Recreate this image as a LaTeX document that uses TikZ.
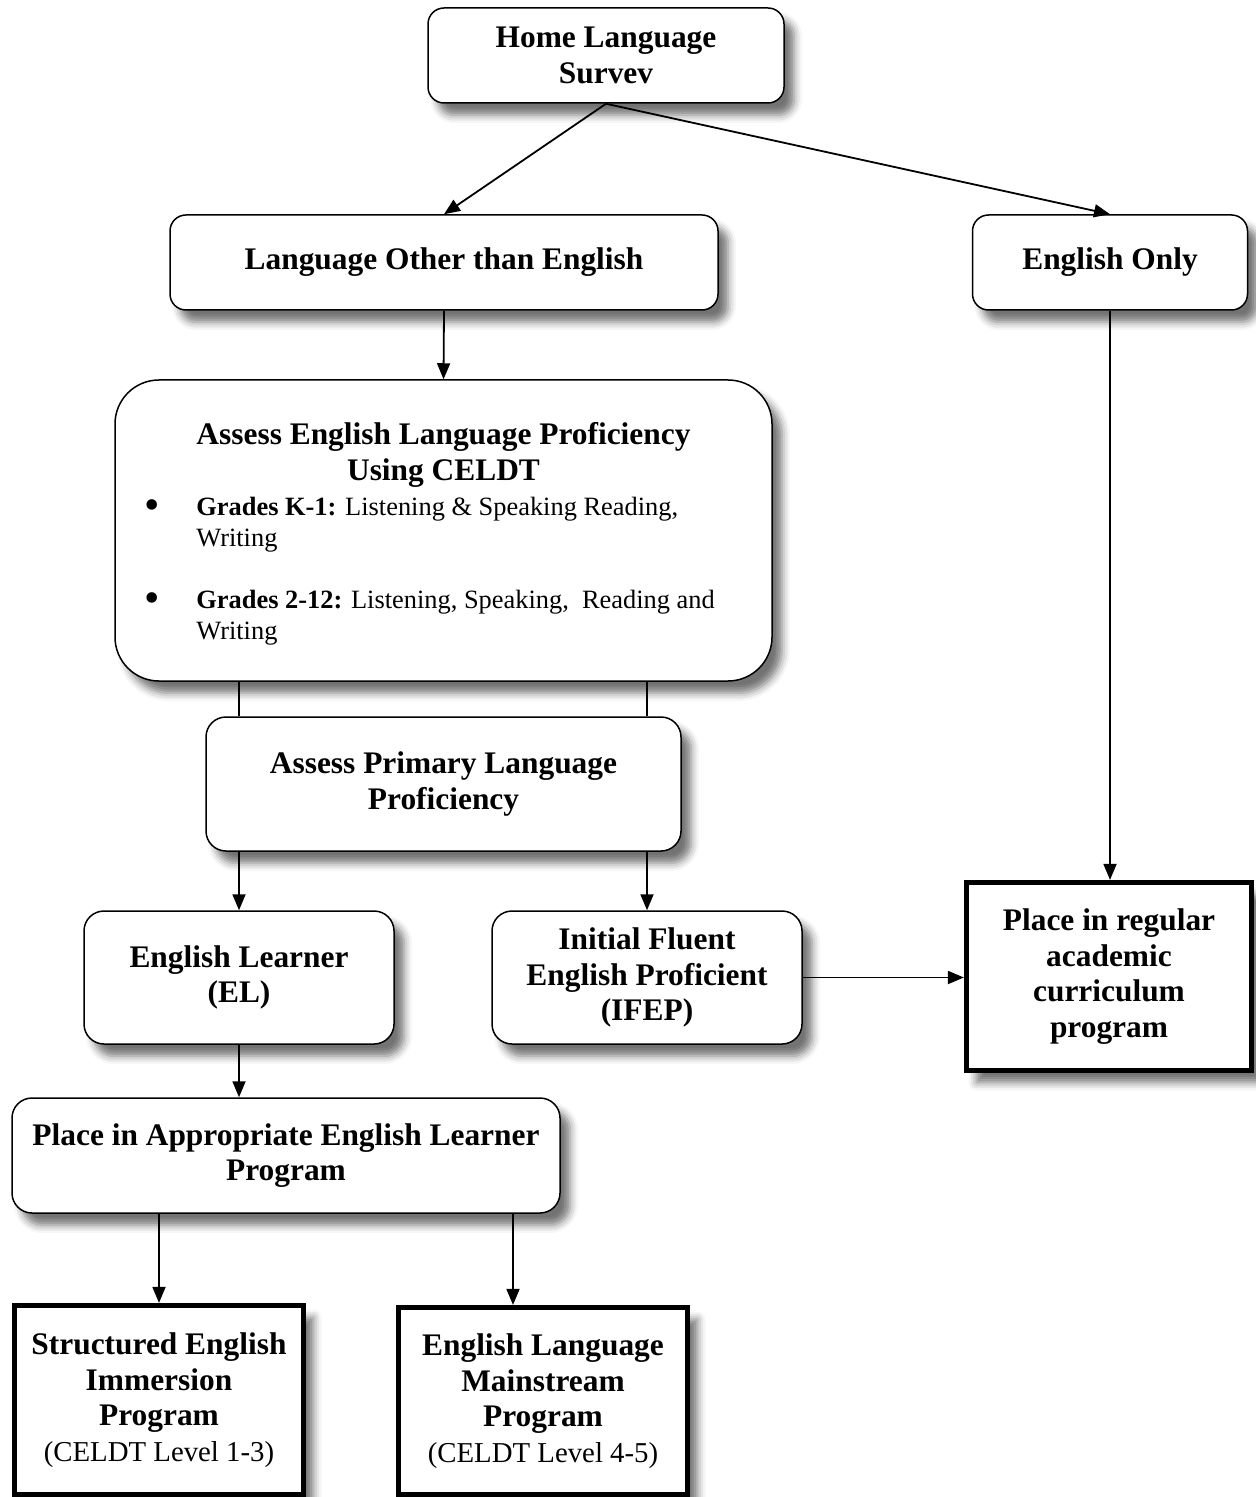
\documentclass[tikz,border=0pt]{standalone}
\usepackage{fontspec}
\setmainfont{Liberation Serif}
\usetikzlibrary{shadows.blur,arrows.meta}
\newcommand\bfnt{\bfseries\fontsize{15.7}{17.8}\selectfont}
\newcommand\rgfnt{\mdseries\fontsize{14.4}{17.8}\selectfont}
\newcommand\blfnt{\fontsize{13.2}{15.5}\selectfont}
\tikzset{
  shad/.style={blur shadow={shadow xshift=5pt, shadow yshift=-6pt, shadow blur radius=4pt, shadow opacity=55}},
  rbox/.style={draw, line width=0.75pt, rounded corners=8pt, fill=white, align=center, inner sep=0pt, font=\bfnt, shad},
  tbox/.style={draw, line width=2.6pt, fill=white, align=center, inner sep=0pt, font=\bfnt, shad},
  arr/.style={-{Triangle[length=8pt,width=6.5pt]}, line width=0.9pt},
  ln/.style={line width=0.9pt},
  txt/.style={inner sep=0pt, align=left, font=\blfnt},
  bul/.style={inner sep=0pt, font=\fontsize{22}{22}\selectfont},
}
\begin{document}
\begin{tikzpicture}[x=0.5pt,y=-0.5pt]
\useasboundingbox (0,0) rectangle (1256,1497);
% boxes
\node[rbox, minimum width=178pt, minimum height=47.5pt] (hls) at (606,55.5) {Home Language\\Survev};
\node[rbox, minimum width=274pt, minimum height=47.5pt] (loe) at (444,262.5) {Language Other than English};
\node[rbox, minimum width=137.5pt, minimum height=47.5pt] (eo) at (1110,262.5) {English Only};
\node[rbox, rounded corners=22pt, minimum width=328.5pt, minimum height=150.5pt] (aee) at (443.5,530.5) {};
\node[inner sep=0pt, align=center, font=\bfnt] (aeet) at (443.5,455) {Assess English Language Proficiency\\Using CELDT};
\node[bul] (d1) at (152,510) {•};
\node[txt, anchor=base west] (b1) at (196,546) {\textbf{Grades K-1:} Listening \& Speaking Reading,\\Writing};
\node[bul] (d2) at (152,603) {•};
\node[txt, anchor=base west] (b2) at (196,639) {\textbf{Grades 2-12:} Listening, Speaking,~ Reading and\\Writing};
\node[rbox, rounded corners=10pt, minimum width=237.5pt, minimum height=67pt] (apl) at (443.5,784) {Assess Primary Language\\Proficiency};
\node[rbox, rounded corners=10pt, minimum width=155pt, minimum height=66.5pt] (el) at (239,977.5) {English Learner\\(EL)};
\node[rbox, rounded corners=10pt, minimum width=155pt, minimum height=66.5pt] (ifep) at (647,977.5) {Initial Fluent\\English Proficient\\(IFEP)};
\node[tbox, minimum width=142.5pt, minimum height=94pt] (pr) at (1109,976.5) {Place in regular\\academic\\curriculum\\program};
\node[rbox, rounded corners=10pt, minimum width=274pt, minimum height=57.5pt] (pap) at (286,1155.5) {Place in Appropriate English Learner\\Program};
\node[tbox, minimum width=144.5pt, minimum height=94.5pt] (se) at (159,1400) {Structured English\\Immersion\\Program\\\rgfnt (CELDT Level 1-3)};
\node[tbox, minimum width=144.5pt, minimum height=93.5pt] (elm) at (543,1401) {English Language\\Mainstream\\Program\\\rgfnt (CELDT Level 4-5)};
% connectors
\draw[arr] (hls.south) -- (loe.north);
\draw[arr] (hls.south) -- (eo.north);
\draw[arr] (loe.south) -- (aee.north);
\draw[arr] (eo.south) -- (eo.south |- pr.north);
\draw[ln] (el.north |- aee.south) -- (el.north |- apl.north);
\draw[ln] (ifep.north |- aee.south) -- (ifep.north |- apl.north);
\draw[arr] (el.north |- apl.south) -- (el.north);
\draw[arr] (ifep.north |- apl.south) -- (ifep.north);
\draw[arr] (ifep.east) -- (pr.west |- ifep.east);
\draw[arr] (el.south) -- (el.south |- pap.north);
\draw[arr] (se.north |- pap.south) -- (se.north);
\draw[arr] ([xshift=-15pt]elm.north |- pap.south) -- ([xshift=-15pt]elm.north);
\end{tikzpicture}
\end{document}
